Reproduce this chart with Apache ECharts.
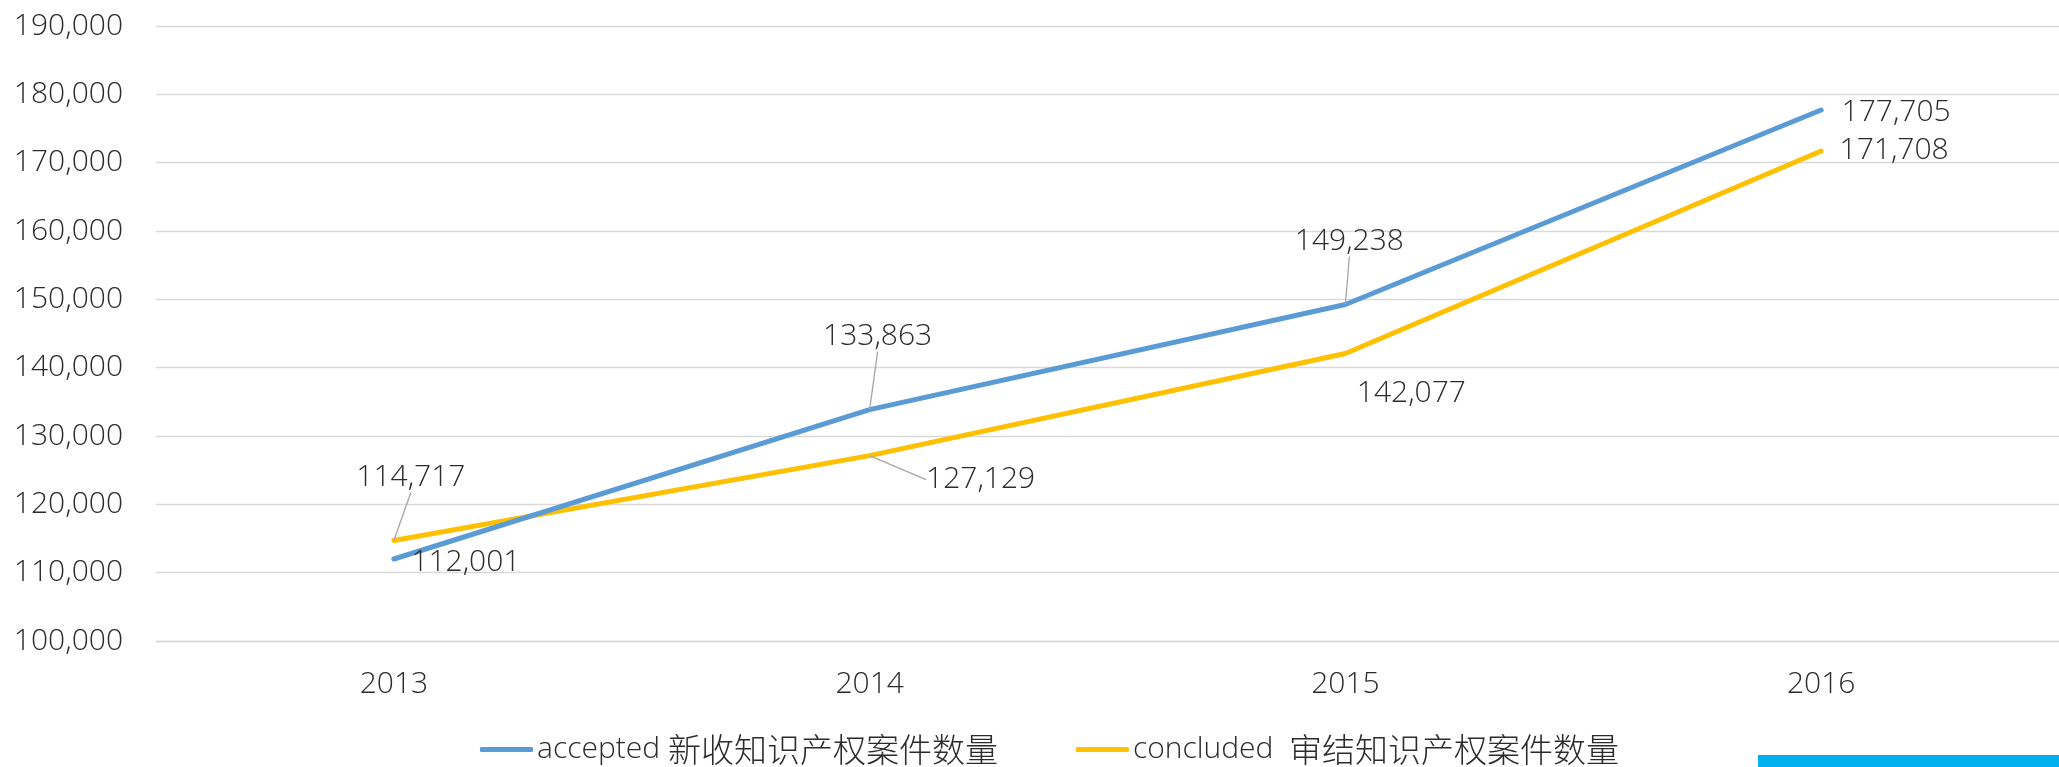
<!DOCTYPE html>
<html>
<head>
<meta charset="utf-8">
<script src="https://cdn.jsdelivr.net/npm/echarts@6/dist/echarts.min.js"></script>
<style>
  html, body { margin: 0; padding: 0; background: #fff; }
  #chart { width: 2059px; height: 767px; }
</style>
</head>
<body>
<div id="chart"></div>
<script>
var years = ['2013', '2014', '2015', '2016'];
var accepted = [112001, 133863, 149238, 177705];
var concluded = [114717, 127129, 142077, 171708];
var seriesNames = ['accepted 新收知识产权案件数量', 'concluded  审结知识产权案件数量'];

// label offsets from point (dx, dy) and whether a leader line is drawn
var acceptedLabel = [[72, 3, false], [8, -73, true], [4, -63, true], [75, 2, false]];
var concludedLabel = [[17, -63, true], [111, 24, true], [66, 40, false], [73, -1, false]];

var fontFam = "'Open Sans', 'Noto Sans CJK SC', sans-serif";
var txtColor = '#2b2b2b';

function buildData(vals, lbl) {
    return vals.map(function (v, i) {
        return {
            value: v,
            labelLine: { show: lbl[i][2], lineStyle: { color: '#a6a6a6', width: 1.3 } }
        };
    });
}

var chart = echarts.init(document.getElementById('chart'));

var option = {
    backgroundColor: '#fff',
    animation: false,
    grid: { left: 156, right: -6, top: 26, bottom: 126, containLabel: false },
    legend: {
        bottom: -4,
        left: 475,
        itemWidth: 53,
        itemHeight: 5,
        itemGap: 78,
        icon: 'roundRect',
        formatter: function (name) {
            var k = name.search(/[\u4e00-\u9fff]/);
            return name.slice(0, k) + '{cjk|' + name.slice(k) + '}';
        },
        textStyle: {
            fontFamily: fontFam, fontSize: 30, fontWeight: 300, color: txtColor, padding: [0, 0, 0, -1],
            rich: { cjk: { fontFamily: "'Noto Sans CJK SC', sans-serif", fontSize: 33, fontWeight: 300, color: txtColor } }
        },
        data: seriesNames
    },
    xAxis: {
        type: 'category',
        data: years,
        boundaryGap: true,
        axisLine: { lineStyle: { color: '#d9d9d9', width: 1.3 } },
        axisTick: { show: false },
        axisLabel: { margin: 28, fontFamily: fontFam, fontSize: 30, fontWeight: 300, color: txtColor }
    },
    yAxis: {
        type: 'value',
        min: 100000,
        max: 190000,
        interval: 10000,
        axisLine: { show: false },
        axisTick: { show: false },
        splitLine: { lineStyle: { color: '#d9d9d9', width: 1.3 } },
        axisLabel: {
            margin: 33,
            fontFamily: fontFam, fontSize: 30, fontWeight: 300, color: txtColor,
            formatter: function (v) { return v.toLocaleString('en-US'); }
        }
    },
    series: [
        {
            name: seriesNames[0],
            type: 'line',
            data: buildData(accepted, acceptedLabel),
            color: '#5b9bd5',
            lineStyle: { width: 5, cap: 'round' },
            symbol: 'circle',
            symbolSize: 1,
            showSymbol: true,
            z: 3,
            label: {
                show: true, position: 'inside',
                fontFamily: fontFam, fontSize: 30, fontWeight: 300, color: txtColor,
                formatter: function (p) { return p.value.toLocaleString('en-US'); }
            },
            labelLayout: function (p) {
                var o = acceptedLabel[p.dataIndex];
                return { dx: o[0], dy: o[1] };
            }
        },
        {
            name: seriesNames[1],
            type: 'line',
            data: buildData(concluded, concludedLabel),
            color: '#ffc000',
            lineStyle: { width: 5, cap: 'round' },
            symbol: 'circle',
            symbolSize: 1,
            showSymbol: true,
            z: 2,
            label: {
                show: true, position: 'inside',
                fontFamily: fontFam, fontSize: 30, fontWeight: 300, color: txtColor,
                formatter: function (p) { return p.value.toLocaleString('en-US'); }
            },
            labelLayout: function (p) {
                var o = concludedLabel[p.dataIndex];
                return { dx: o[0], dy: o[1] };
            }
        }
    ],
    graphic: [
        { type: 'rect', right: 0, bottom: 0, shape: { width: 301, height: 12 }, style: { fill: '#00b0f0' } }
    ]
};

chart.setOption(option);
</script>
</body>
</html>
